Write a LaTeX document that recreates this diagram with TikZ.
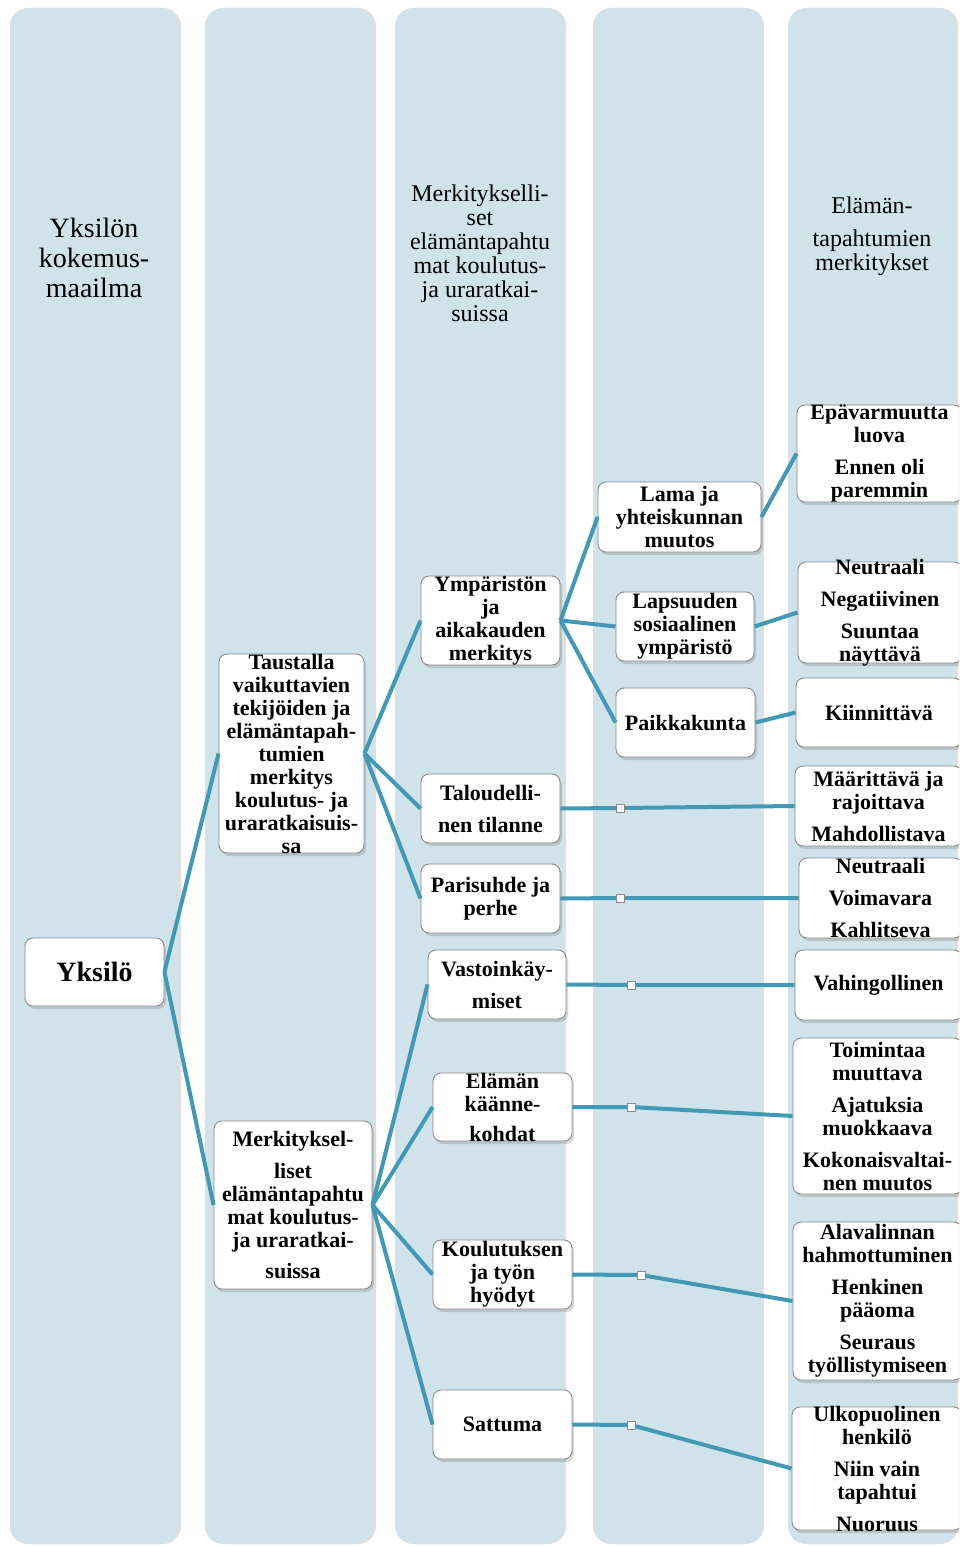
\documentclass[tikz,border=0pt]{standalone}
\usepackage{fontspec}
\setmainfont{Liberation Serif}
\usetikzlibrary{shadows}
\definecolor{lanefill}{HTML}{D0E2EA}
\definecolor{conncol}{HTML}{4299B5}
\definecolor{cardline}{HTML}{8A8A8A}
\tikzset{every picture/.style={line width=0.75pt}}
\tikzset{
  lane/.style={fill=lanefill, draw=none, rounded corners=18pt,
    drop shadow={shadow xshift=3pt, shadow yshift=0pt, opacity=0.25}},
  card/.style={draw=cardline, fill=white, rounded corners=8pt, line width=0.9pt, inner sep=0pt,
    drop shadow={shadow xshift=2pt, shadow yshift=-3pt, opacity=0.3}},
  cardtext/.style={align=center, inner sep=0pt, font=\fontsize{22}{23}\selectfont\bfseries},
  head/.style={align=center, inner sep=0pt, font=\fontsize{24}{24}\selectfont},
  conn/.style={draw=conncol, line width=4pt},
  knot/.style={draw=cardline, fill=white, minimum size=8pt, inner sep=0pt, line width=0.8pt}
}

\begin{document}
\begin{tikzpicture}[x=1pt,y=1pt,yscale=-1,xscale=1]
\clip (0,0) rectangle (959,1546);
\fill[white] (0,0) rectangle (959,1546);
% lanes
\draw[lane] (10,8) rectangle (178,1544);
\draw[lane] (205,8) rectangle (373,1544);
\draw[lane] (395,8) rectangle (563,1544);
\draw[lane] (593,8) rectangle (761,1544);
\draw[lane] (788,8) rectangle (955,1544);
% lane headings
\node[head, font=\fontsize{28}{30}\selectfont] (h1) at (94,258) {Yksilön\\kokemus-\\maailma};
\node[head] (h3) at (480,253) {Merkitykselli-\\set\\elämäntapahtu\\mat koulutus-\\ja uraratkai-\\suissa};
\node[head] (h5) at (872,236) {Elämän-\\[9pt]tapahtumien\\merkitykset};
% boxes
\node[card, minimum width=139pt, minimum height=68pt] (yks) at (94.5,972) {};
\node[card, minimum width=145pt, minimum height=199pt] (tau) at (291.5,753.5) {};
\node[card, minimum width=158pt, minimum height=168pt] (mer) at (293,1205) {};
\node[card, minimum width=139pt, minimum height=89pt] (ymp) at (490.5,620.5) {};
\node[card, minimum width=139pt, minimum height=69pt] (tal) at (490.5,808.5) {};
\node[card, minimum width=139pt, minimum height=69pt] (par) at (490.5,898.5) {};
\node[card, minimum width=138pt, minimum height=69pt] (vas) at (497,984.5) {};
\node[card, minimum width=139pt, minimum height=68pt] (kaa) at (502.5,1107) {};
\node[card, minimum width=139pt, minimum height=69pt] (kou) at (502.5,1274.5) {};
\node[card, minimum width=139pt, minimum height=69pt] (sat) at (502.5,1424.5) {};
\node[card, minimum width=163pt, minimum height=70pt] (lama) at (679.5,517) {};
\node[card, minimum width=138pt, minimum height=69pt] (lap) at (685,626.5) {};
\node[card, minimum width=139pt, minimum height=69pt] (pai) at (685.5,722.5) {};
\node[card, minimum width=165pt, minimum height=97pt] (e1) at (879.5,453.5) {};
\node[card, minimum width=164pt, minimum height=101pt] (e2) at (880,612.5) {};
\node[card, minimum width=166pt, minimum height=69pt] (e3) at (879,712.5) {};
\node[card, minimum width=167pt, minimum height=80pt] (e4) at (878.5,806) {};
\node[card, minimum width=163pt, minimum height=80pt] (e5) at (880.5,898) {};
\node[card, minimum width=167pt, minimum height=70pt] (e6) at (878.5,985) {};
\node[card, minimum width=169pt, minimum height=156pt] (e7) at (877.5,1116) {};
\node[card, minimum width=169pt, minimum height=158pt] (e8) at (877.5,1301) {};
\node[card, minimum width=170pt, minimum height=123pt] (e9) at (877,1468.5) {};
% connectors
\draw[conn] (yks.east) -- (tau.west);
\draw[conn] (yks.east) -- (mer.west);
\draw[conn] (tau.east) -- (ymp.west);
\draw[conn] (tau.east) -- (tal.west);
\draw[conn] (tau.east) -- (par.west);
\draw[conn] (mer.east) -- (vas.west);
\draw[conn] (mer.east) -- (kaa.west);
\draw[conn] (mer.east) -- (kou.west);
\draw[conn] (mer.east) -- (sat.west);
\draw[conn] (ymp.east) -- (lama.west);
\draw[conn] (ymp.east) -- (lap.west);
\draw[conn] (ymp.east) -- (pai.west);
\draw[conn] (lama.east) -- (e1.west);
\draw[conn] (lap.east) -- (e2.west);
\draw[conn] (pai.east) -- (e3.west);
\coordinate (k1) at (620,808);
\coordinate (k2) at (620,898);
\coordinate (k3) at (631,985);
\coordinate (k4) at (631,1107);
\coordinate (k5) at (641,1275);
\coordinate (k6) at (631,1425);
\draw[conn] (tal.east) -- (k1) -- (e4.west);
\draw[conn] (par.east) -- (k2) -- (e5.west);
\draw[conn] (vas.east) -- (k3) -- (e6.west);
\draw[conn] (kaa.east) -- (k4) -- (e7.west);
\draw[conn] (kou.east) -- (k5) -- (e8.west);
\draw[conn] (sat.east) -- (k6) -- (e9.west);
\node[knot] (k1m) at (k1) {};
\node[knot] (k2m) at (k2) {};
\node[knot] (k3m) at (k3) {};
\node[knot] (k4m) at (k4) {};
\node[knot] (k5m) at (k5) {};
\node[knot] (k6m) at (k6) {};
% box texts
\node[cardtext, font=\fontsize{28}{30}\selectfont\bfseries] (yks-t) at (yks) {Yksilö};
\node[cardtext] (tau-t) at (tau) {Taustalla\\vaikuttavien\\tekijöiden ja\\elämäntapah-\\tumien\\merkitys\\koulutus- ja\\uraratkaisuis-\\sa};
\node[cardtext] (mer-t) at (mer) {Merkityksel-\\[9pt]liset\\elämäntapahtu\\mat koulutus-\\ja uraratkai-\\[8pt]suissa};
\node[cardtext] (ymp-t) at (ymp) {Ympäristön\\ja\\aikakauden\\merkitys};
\node[cardtext] (tal-t) at (tal) {Taloudelli-\\[9pt]nen tilanne};
\node[cardtext] (par-t) at (par) {Parisuhde ja\\perhe};
\node[cardtext] (vas-t) at (vas) {Vastoinkäy-\\[9pt]miset};
\node[cardtext] (kaa-t) at (kaa) {Elämän\\käänne-\\[7pt]kohdat};
\node[cardtext] (kou-t) at (kou) {Koulutuksen\\ja työn\\hyödyt};
\node[cardtext] (sat-t) at (sat) {Sattuma};
\node[cardtext] (lama-t) at (lama) {Lama ja\\yhteiskunnan\\muutos};
\node[cardtext] (lap-t) at (lap) {Lapsuuden\\sosiaalinen\\ympäristö};
\node[cardtext] (pai-t) at (pai) {Paikkakunta};
\node[cardtext] (e1-t) at (e1) {Epävarmuutta\\luova\\[9pt]Ennen oli\\paremmin};
\node[cardtext] (e2-t) at (e2) {Neutraali\\[9pt]Negatiivinen\\[9pt]Suuntaa\\näyttävä};
\node[cardtext] (e3-t) at (e3) {Kiinnittävä};
\node[cardtext] (e4-t) at (e4) {Määrittävä ja\\rajoittava\\[9pt]Mahdollistava};
\node[cardtext] (e5-t) at (e5) {Neutraali\\[9pt]Voimavara\\[9pt]Kahlitseva};
\node[cardtext] (e6-t) at (e6) {Vahingollinen};
\node[cardtext] (e7-t) at (e7) {Toimintaa\\muuttava\\[9pt]Ajatuksia\\muokkaava\\[9pt]Kokonaisvaltai-\\nen muutos};
\node[cardtext] (e8-t) at (e8) {Alavalinnan\\hahmottuminen\\[9pt]Henkinen\\pääoma\\[9pt]Seuraus\\työllistymiseen};
\node[cardtext] (e9-t) at (e9) {Ulkopuolinen\\henkilö\\[9pt]Niin vain\\tapahtui\\[9pt]Nuoruus};
\end{tikzpicture}
\end{document}
